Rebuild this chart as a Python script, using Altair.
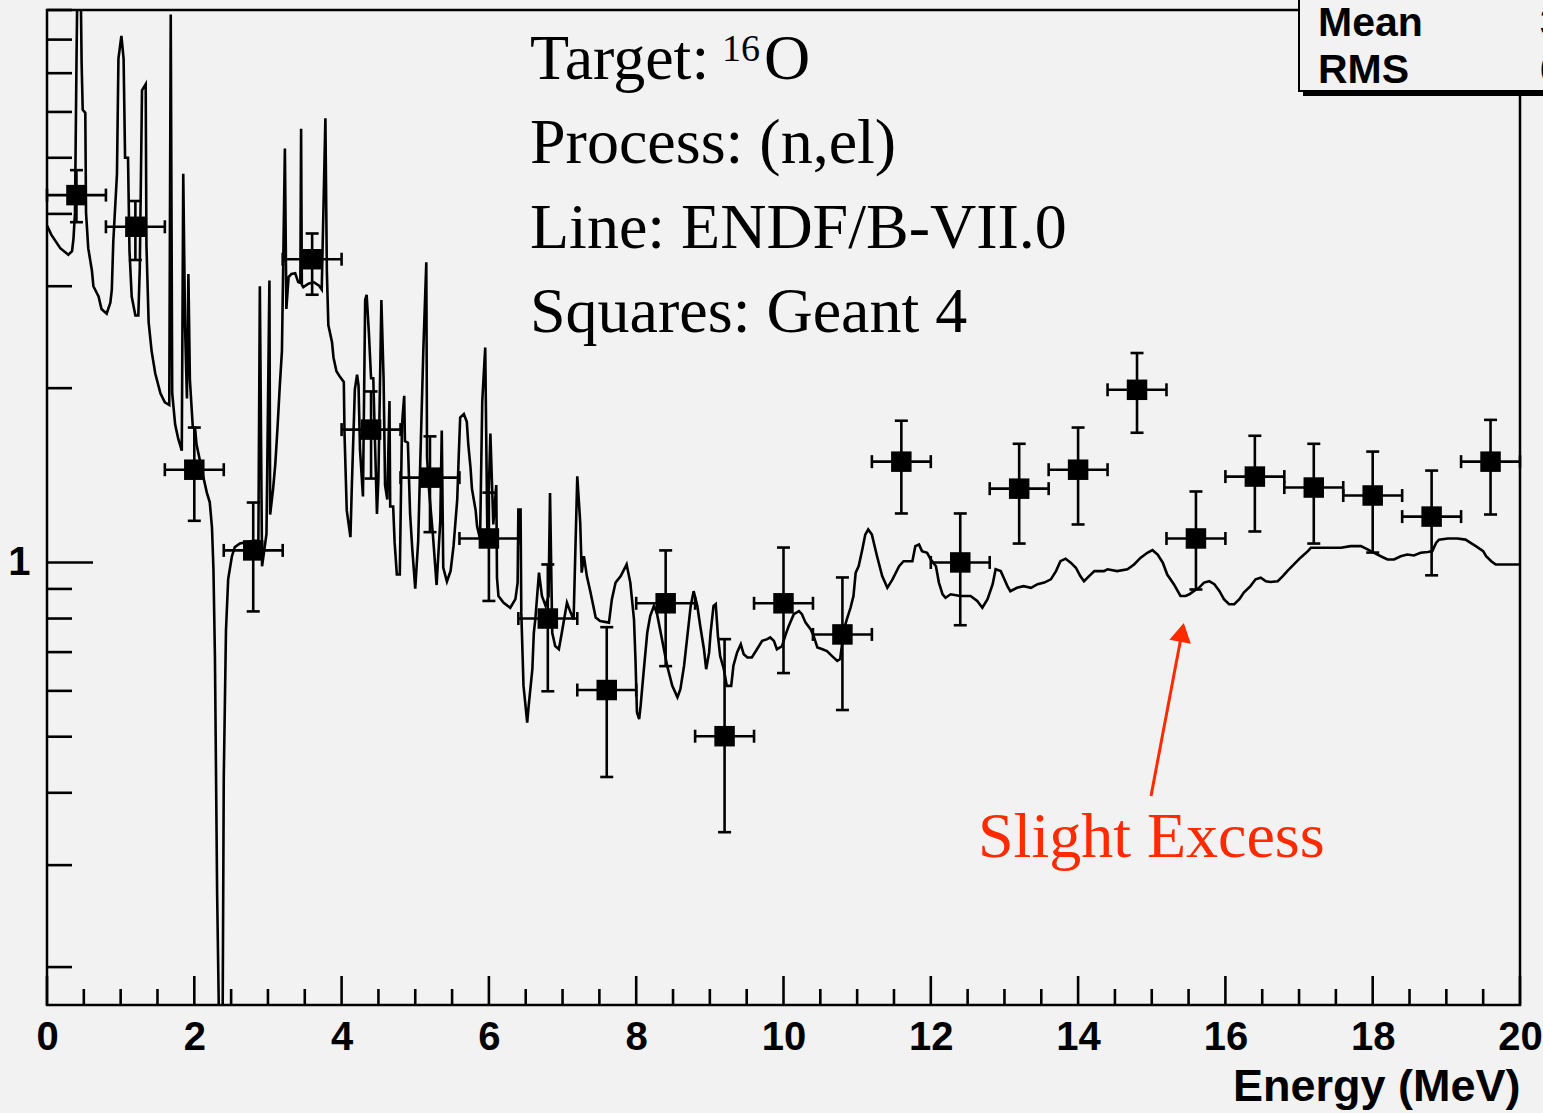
import altair as alt
import pandas as pd

# ---------------- data ----------------
# ENDF/B-VII.0 evaluated cross section (line), energy in MeV
endf_E = [0.00, 0.06, 0.18, 0.29, 0.34, 0.36, 0.38, 0.40, 0.42, 0.45, 0.47, 0.485, 0.52, 0.53, 0.56,
          0.61, 0.63, 0.70, 0.74, 0.81, 0.86, 0.88, 0.90, 0.95, 0.97, 1.01, 1.04, 1.06, 1.10, 1.12,
          1.15, 1.20, 1.24, 1.26, 1.29, 1.34, 1.35, 1.38, 1.42, 1.47, 1.54, 1.60, 1.66, 1.68, 1.70,
          1.74, 1.78, 1.83, 1.85, 1.875, 1.90, 1.92, 1.94, 1.98, 2.01, 2.03, 2.12, 2.17, 2.21, 2.24,
          2.26, 2.28, 2.31, 2.35, 2.38, 2.40, 2.43, 2.46, 2.51, 2.55, 2.62, 2.80, 2.87, 2.89, 2.92,
          2.98, 3.02, 3.03, 3.07, 3.10, 3.13, 3.16, 3.19, 3.23, 3.25, 3.28, 3.32, 3.37, 3.41, 3.44,
          3.45, 3.46, 3.48, 3.55, 3.62, 3.69, 3.73, 3.78, 3.80, 3.82, 3.87, 3.89, 3.93, 3.98, 4.03,
          4.04, 4.07, 4.12, 4.14, 4.18, 4.21, 4.23, 4.25, 4.29, 4.32, 4.34, 4.37, 4.40, 4.43, 4.48,
          4.50, 4.54, 4.57, 4.59, 4.62, 4.65, 4.66, 4.70, 4.72, 4.75, 4.79, 4.82, 4.85, 4.86, 4.90,
          4.93, 4.96, 5.00, 5.04, 5.07, 5.11, 5.15, 5.16, 5.19, 5.24, 5.29, 5.34, 5.36, 5.38, 5.43,
          5.48, 5.52, 5.57, 5.59, 5.61, 5.66, 5.70, 5.72, 5.75, 5.77, 5.82, 5.84, 5.88, 5.91, 5.95,
          5.98, 6.02, 6.06, 6.10, 6.11, 6.13, 6.20, 6.29, 6.36, 6.39, 6.40, 6.43, 6.44, 6.47, 6.52,
          6.54, 6.59, 6.61, 6.63, 6.68, 6.72, 6.77, 6.81, 6.83, 6.86, 6.90, 6.95, 6.99, 7.06, 7.11,
          7.15, 7.20, 7.24, 7.26, 7.29, 7.33, 7.38, 7.45, 7.51, 7.63, 7.67, 7.72, 7.79, 7.87, 7.92,
          7.97, 7.99, 8.01, 8.04, 8.06, 8.10, 8.15, 8.19, 8.24, 8.28, 8.35, 8.42, 8.49, 8.56, 8.60,
          8.65, 8.69, 8.74, 8.78, 8.83, 8.87, 8.92, 8.95, 8.99, 9.01, 9.05, 9.08, 9.11, 9.14, 9.19,
          9.23, 9.29, 9.32, 9.37, 9.42, 9.46, 9.51, 9.57, 9.64, 9.71, 9.78, 9.82, 9.87, 9.91, 9.98,
          10.03, 10.07, 10.14, 10.21, 10.25, 10.30, 10.37, 10.41, 10.46, 10.53, 10.59, 10.66, 10.73, 10.77, 10.82,
          10.86, 10.91, 10.95, 10.98, 11.02, 11.07, 11.11, 11.15, 11.20, 11.27, 11.34, 11.41, 11.48, 11.57, 11.63,
          11.75, 11.79, 11.84, 11.88, 11.95, 12.00, 12.07, 12.11, 12.16, 12.20, 12.27, 12.40, 12.54, 12.63, 12.70,
          12.77, 12.84, 12.88, 12.95, 12.99, 13.04, 13.08, 13.17, 13.26, 13.36, 13.45, 13.54, 13.63, 13.70, 13.76,
          13.83, 13.90, 13.97, 14.03, 14.08, 14.15, 14.22, 14.35, 14.40, 14.53, 14.67, 14.76, 14.85, 14.94, 15.01,
          15.08, 15.15, 15.21, 15.30, 15.39, 15.46, 15.51, 15.57, 15.64, 15.71, 15.78, 15.85, 15.92, 15.98, 16.05,
          16.12, 16.19, 16.25, 16.34, 16.41, 16.48, 16.55, 16.61, 16.71, 16.78, 16.84, 16.93, 17.02, 17.12, 17.16,
          17.39, 17.57, 17.70, 17.84, 17.93, 18.02, 18.11, 18.20, 18.29, 18.38, 18.47, 18.56, 18.65, 18.75, 18.81,
          18.86, 18.90, 19.02, 19.15, 19.26, 19.33, 19.40, 19.50, 19.54, 19.61, 19.67, 19.79, 20.00]
endf_xs = [3.82, 3.68, 3.49, 3.40, 3.45, 3.63, 4.02, 7.25, 12.0, 12.0, 7.3, 6.05, 5.98, 4.02, 3.49,
           3.19, 3.00, 2.88, 2.74, 2.69, 2.81, 2.96, 3.58, 4.69, 7.42, 8.12, 7.42, 5.00, 5.00, 3.45,
           2.88, 2.67, 2.67, 3.23, 6.54, 6.70, 3.54, 2.60, 2.32, 2.12, 1.96, 1.89, 1.87, 8.84, 1.96,
           1.73, 1.64, 1.56, 4.69, 2.54, 1.92, 3.15, 2.07, 1.71, 1.71, 1.60, 1.41, 1.32, 1.27, 1.149,
           0.973, 0.689, 0.268, 0.12, 0.12, 0.424, 0.763, 0.936, 1.024, 1.063, 1.078, 1.09, 1.09, 3.00, 0.985,
           1.12, 3.07, 1.21, 1.34, 1.48, 1.71, 2.01, 2.32, 5.19, 2.74, 3.11, 3.15, 3.16, 3.05, 3.04,
           5.61, 3.02, 2.99, 3.03, 3.05, 3.01, 2.96, 5.85, 3.18, 2.57, 2.40, 2.26, 2.14, 2.09, 2.05,
           1.66, 1.23, 1.106, 1.368, 1.99, 2.11, 2.02, 1.566, 1.30, 2.84, 2.90, 2.50, 2.08, 2.08, 1.213,
           1.398, 2.84, 2.08, 1.36, 1.284, 1.90, 1.249, 1.249, 1.083, 0.953, 0.953, 1.73, 1.94, 1.62, 1.61,
           1.213, 1.053, 0.901, 1.09, 1.52, 2.33, 3.30, 1.52, 1.32, 1.115, 0.914, 1.18, 1.69, 0.98, 0.927,
           0.967, 1.068, 1.284, 1.52, 1.78, 1.805, 1.75, 1.60, 1.46, 1.34, 1.23, 1.154, 1.099, 1.90, 2.35,
           1.083, 1.67, 1.163, 1.36, 0.94, 0.875, 0.852, 0.835, 0.864, 0.923, 1.234, 1.234, 0.819, 0.612, 0.529,
           0.565, 0.654, 0.756, 0.797, 0.96, 0.875, 0.841, 0.875, 1.318, 0.756, 0.717, 0.708, 0.756, 0.852, 0.819,
           0.797, 1.408, 1.171, 0.960, 1.025, 0.947, 0.887, 0.803, 0.792, 0.787, 0.864, 0.923, 0.947, 0.992, 0.923,
           0.797, 0.681, 0.551, 0.536, 0.565, 0.645, 0.756, 0.808, 0.841, 0.819, 0.737, 0.663, 0.612, 0.585, 0.604,
           0.663, 0.737, 0.841, 0.892, 0.841, 0.776, 0.708, 0.654, 0.699, 0.756, 0.841, 0.847, 0.746, 0.689, 0.654,
           0.612, 0.612, 0.663, 0.699, 0.722, 0.694, 0.685, 0.685, 0.708, 0.732, 0.737, 0.742, 0.732, 0.708, 0.717,
           0.751, 0.776, 0.814, 0.824, 0.814, 0.787, 0.766, 0.746, 0.713, 0.708, 0.703, 0.689, 0.676, 0.681, 0.766,
           0.797, 0.835, 0.875, 0.960, 0.985, 1.053, 1.117, 1.14, 1.117, 1.025, 0.947, 0.904, 0.935, 0.985, 1.005,
           1.005, 1.067, 1.074, 1.046, 1.039, 1.012, 0.985, 0.923, 0.881, 0.869, 0.881, 0.875, 0.875, 0.858, 0.835,
           0.864, 0.917, 0.973, 0.966, 0.941, 0.910, 0.892, 0.904, 0.910, 0.904, 0.917, 0.923, 0.935, 0.966, 1.005,
           1.015, 0.999, 0.979, 0.947, 0.928, 0.947, 0.966, 0.966, 0.973, 0.966, 0.973, 0.992, 1.019, 1.039, 1.05,
           1.032, 0.999, 0.953, 0.917, 0.875, 0.875, 0.881, 0.892, 0.904, 0.923, 0.928, 0.917, 0.892, 0.864, 0.847,
           0.847, 0.864, 0.887, 0.910, 0.935, 0.941, 0.928, 0.925, 0.928, 0.947, 0.966, 0.992, 1.019, 1.046, 1.06,
           1.06, 1.06, 1.067, 1.067, 1.053, 1.039, 1.025, 1.012, 1.012, 1.025, 1.032, 1.028, 1.039, 1.042, 1.046,
           1.081, 1.095, 1.10, 1.10, 1.095, 1.081, 1.067, 1.046, 1.025, 1.005, 0.992, 0.992, 0.992]

# Geant 4 results (squares) with errors
g4_E = [0.4, 1.2, 2.0, 2.8, 3.6, 4.4, 5.2, 6.0, 6.8, 7.6, 8.4, 9.2, 10.0,
        10.8, 11.6, 12.4, 13.2, 14.0, 14.8, 15.6, 16.4, 17.2, 18.0, 18.8, 19.6]
g4_val = [4.31, 3.80, 1.446, 1.049, 3.34, 1.696, 1.401, 1.100, 0.800, 0.602, 0.850, 0.501, 0.850,
          0.751, 1.493, 1.0, 1.341, 1.446, 1.987, 1.100, 1.407, 1.347, 1.305, 1.200, 1.493]
g4_hi = [4.76, 4.21, 1.71, 1.269, 3.70, 1.974, 1.651, 1.320, 0.992, 0.773, 1.049, 0.737, 1.061,
         0.942, 1.757, 1.215, 1.603, 1.71, 2.30, 1.326, 1.655, 1.603, 1.554, 1.441, 1.763]
g4_lo = [3.87, 3.33, 1.18, 0.823, 2.90, 1.396, 1.128, 0.858, 0.599, 0.426, 0.662, 0.342, 0.644,
         0.556, 1.215, 0.779, 1.078, 1.163, 1.675, 0.898, 1.131, 1.078, 1.040, 0.950, 1.21]
g4_halfwidth = 0.4

# axis ticks / labels
x_major = [0, 2, 4, 6, 8, 10, 12, 14, 16, 18, 20]
x_minor = [0.5, 1, 1.5, 2.5, 3, 3.5, 4.5, 5, 5.5, 6.5, 7, 7.5, 8.5, 9, 9.5, 10.5, 11, 11.5,
           12.5, 13, 13.5, 14.5, 15, 15.5, 16.5, 17, 17.5, 18.5, 19, 19.5]
y_major = [1]
y_minor = [0.2, 0.3, 0.4, 0.5, 0.6, 0.7, 0.8, 0.9, 2, 3, 4, 5, 6, 7, 8, 9]

# annotation (arrow from tail to head, data coordinates)
arrow_E = [14.99, 15.41]
arrow_v = [0.395, 0.757]

texts = ["Target:", "16", "O", "Process: (n,el)", "Line: ENDF/B-VII.0", "Squares: Geant 4",
         "Slight Excess", "Mean", "RMS"]
x_title = "Energy (MeV)"

# ---------------- chart ----------------
W, H = 1473, 995
BG = "#f2f2f2"
RED = "#ff2a00"
LW = 2.6
xscale = alt.Scale(domain=[0, 20], nice=False, zero=False)
yscale = alt.Scale(type="log", domain=[0.172, 9.0], nice=False)

xaxis = alt.Axis(values=x_major, format="d", ticks=False, tickSize=0, domain=False, grid=False,
                 labelFont="Liberation Sans", labelFontWeight="bold", labelFontSize=40,
                 labelColor="black", labelPadding=12, labelFlush=False, labelOverlap=False,
                 title=x_title, titleFont="Liberation Sans", titleFontWeight="bold",
                 titleFontSize=45, titleColor="black", titleX=W, titleY=95,
                 titleAlign="right", titleBaseline="alphabetic", titleAnchor="end")
yaxis = alt.Axis(values=y_major, format="d", ticks=False, tickSize=0, domain=False, grid=False,
                 labelFont="Liberation Sans", labelFontWeight="bold", labelFontSize=40,
                 labelColor="black", labelPadding=17, labelOverlap=False, title=None)

df_line = pd.DataFrame({"E": endf_E, "xs": endf_xs})
df_g4 = pd.DataFrame({"E": g4_E, "val": g4_val, "lo": g4_lo, "hi": g4_hi})
df_g4["Elo"] = df_g4["E"] - g4_halfwidth
df_g4["Ehi"] = df_g4["E"] + g4_halfwidth


def X(f):
    return alt.X(f, type="quantitative", scale=xscale, axis=xaxis)


def Y(f):
    return alt.Y(f, type="quantitative", scale=yscale, axis=yaxis)


line = alt.Chart(df_line).mark_line(color="black", strokeWidth=LW, clip=True).encode(
    x=X("E"), y=Y("xs"), order="E:Q")

vbars = alt.Chart(df_g4).mark_rule(color="black", strokeWidth=LW).encode(x=X("E"), y=Y("lo"), y2="hi")
hbars = alt.Chart(df_g4).mark_rule(color="black", strokeWidth=LW).encode(x=X("Elo"), x2="Ehi", y=Y("val"))
caps_lo = alt.Chart(df_g4).mark_tick(color="black", orient="horizontal", size=13, thickness=LW, opacity=1).encode(x=X("E"), y=Y("lo"))
caps_hi = alt.Chart(df_g4).mark_tick(color="black", orient="horizontal", size=13, thickness=LW, opacity=1).encode(x=X("E"), y=Y("hi"))
caps_l = alt.Chart(df_g4).mark_tick(color="black", orient="vertical", size=13, thickness=LW, opacity=1).encode(x=X("Elo"), y=Y("val"))
caps_r = alt.Chart(df_g4).mark_tick(color="black", orient="vertical", size=13, thickness=LW, opacity=1).encode(x=X("Ehi"), y=Y("val"))
squares = alt.Chart(df_g4).mark_square(color="black", opacity=1, size=420, filled=True).encode(x=X("E"), y=Y("val"))

# inward ticks
ytick_minor = alt.Chart(pd.DataFrame({"v": y_minor})).mark_rule(color="black", strokeWidth=LW).encode(
    y=Y("v"), x=alt.value(0), x2=alt.value(25))
ytick_major = alt.Chart(pd.DataFrame({"v": y_major})).mark_rule(color="black", strokeWidth=LW).encode(
    y=Y("v"), x=alt.value(0), x2=alt.value(46))
xtick_minor = alt.Chart(pd.DataFrame({"v": x_minor})).mark_rule(color="black", strokeWidth=LW).encode(
    x=X("v"), y=alt.value(H), y2=alt.value(H - 16))
xtick_major = alt.Chart(pd.DataFrame({"v": x_major})).mark_rule(color="black", strokeWidth=LW).encode(
    x=X("v"), y=alt.value(H), y2=alt.value(H - 29))


def label(txt, x, y, size, font="Liberation Serif", color="black", weight="normal"):
    return alt.Chart(pd.DataFrame({"t": [txt]})).mark_text(
        align="left", baseline="alphabetic", font=font, fontSize=size, color=color, fontWeight=weight
    ).encode(x=alt.value(x), y=alt.value(y), text="t:N")


notes = [
    label(texts[0], 483, 69, 64),
    label(texts[1], 675, 51, 38),
    label(texts[2], 717, 69, 64),
    label(texts[3], 483, 153, 64),
    label(texts[4], 483, 238, 64),
    label(texts[5], 483, 322, 64),
    label(texts[6], 931, 847, 64, color=RED),
]

df_arrow = pd.DataFrame({"E": arrow_E, "v": arrow_v})
arrow_line = alt.Chart(df_arrow).mark_line(color=RED, strokeWidth=3).encode(x=X("E"), y=Y("v"))
arrow_head = alt.Chart(df_arrow.iloc[[1]]).mark_point(
    shape="triangle-up", filled=True, color=RED, opacity=1, size=480, angle=11
).encode(x=X("E"), y=Y("v"))

# statistics box (partially outside the image, as in the reference)
one = pd.DataFrame({"a": [0]})
shadow = alt.Chart(one).mark_rect(color="black").encode(
    x=alt.value(1256), x2=alt.value(1510), y=alt.value(-20), y2=alt.value(86))
box = alt.Chart(one).mark_rect(fill=BG, stroke="black", strokeWidth=2).encode(
    x=alt.value(1252), x2=alt.value(1510), y=alt.value(-20), y2=alt.value(81))
stats = [
    label(texts[7], 1271, 26, 41, font="Liberation Sans", weight="bold"),
    label(texts[8], 1271, 73, 41, font="Liberation Sans", weight="bold"),
    label("3", 1493, 26, 41, font="Liberation Sans", weight="bold"),
    label("6", 1493, 73, 41, font="Liberation Sans", weight="bold"),
]

chart = alt.layer(
    line, vbars, hbars, caps_lo, caps_hi, caps_l, caps_r, squares,
    ytick_minor, ytick_major, xtick_minor, xtick_major,
    *notes, arrow_line, arrow_head, shadow, box, *stats
).properties(
    width=W, height=H,
    padding={"left": 47, "top": 10, "right": 23, "bottom": 108},
    autosize=alt.AutoSizeParams(type="none"),
    background=BG,
).configure_view(stroke="black", strokeWidth=2.5)

chart.save("out.html", embed_options={"renderer": "svg", "actions": False})
